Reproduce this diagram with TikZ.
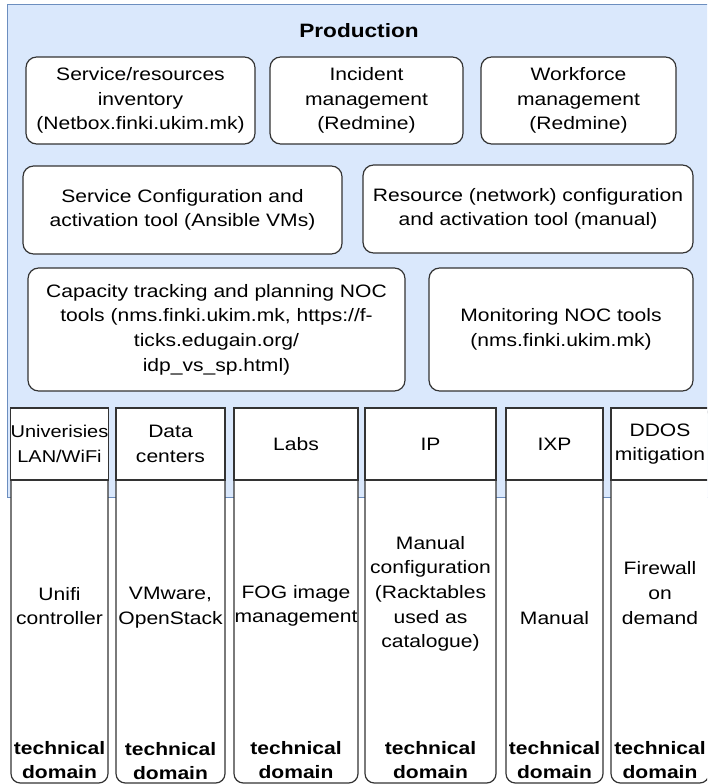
\documentclass[tikz,border=0pt]{standalone}
\usepackage{fontspec}
\setmainfont{Liberation Sans}[FakeStretch=1.17]
\definecolor{prodfill}{HTML}{DAE8FC}
\definecolor{prodline}{HTML}{6C8EBF}
\definecolor{boxline}{HTML}{333333}

\begin{document}
\begin{tikzpicture}[x=0.75pt, y=-0.75pt,
  every node/.style={font=\fontsize{13.5}{18.5}\selectfont, align=center},
  tool/.style={draw=boxline, fill=white, line width=0.9pt, rounded corners=8pt, inner sep=2pt},
  lane/.style={draw=boxline, fill=white, line width=0.9pt, rounded corners=7pt, inner sep=0pt, minimum height=281.25pt},
  lanehead/.style={draw=boxline, fill=white, line width=0.9pt, inner sep=0pt, minimum height=54pt},
  techdomain/.style={font=\fontsize{13.5}{18.5}\selectfont\bfseries, inner sep=0pt}]
  \clip (0,0) rectangle (707,784);

  \node[draw=prodline, fill=prodfill, line width=0.75pt, inner sep=0pt,
    minimum width=528pt, minimum height=369pt](Prod) at (359,251) {};
  \node[font=\fontsize{14.5}{18.5}\selectfont\bfseries](ProdTitle) at (359,31) {Production};

  \node[tool, minimum width=171.75pt, minimum height=65.25pt](Inv) at (140.5,100.5)
    {Service/resources\\inventory\\(Netbox.finki.ukim.mk)};
  \node[tool, minimum width=144.75pt, minimum height=65.25pt](Incid) at (366.5,100.5)
    {Incident\\management\\(Redmine)};
  \node[tool, minimum width=146.25pt, minimum height=65.25pt](Work) at (578.5,100.5)
    {Workforce\\management\\(Redmine)};

  \node[tool, minimum width=239.25pt, minimum height=66pt](SrvConf) at (182.5,210)
    {Service Configuration and\\activation tool (Ansible VMs)};
  \node[tool, minimum width=247.5pt, minimum height=66pt](ResConf) at (528,209)
    {Resource (network) configuration\\and activation tool (manual)};

  \node[tool, minimum width=282.75pt, minimum height=92.25pt](Capac) at (216.5,329.5)
    {Capacity tracking and planning NOC\\tools (nms.finki.ukim.mk, https://f-\\ticks.edugain.org/\\idp\_vs\_sp.html)};
  \node[tool, minimum width=198pt, minimum height=92.25pt](Monit) at (561,329.5)
    {Monitoring NOC tools\\(nms.finki.ukim.mk)};

  \node[lane, minimum width=72.75pt](UniLane) at (59.5,595.5) {};
  \node[lanehead, minimum width=72.75pt, font=\fontsize{12.8}{18.5}\selectfont](Uni) at (59.5,444)
    {Univerisies\\LAN/WiFi};
  \node(UniTool) at (59.5,606) {Unifi\\controller};
  \node[techdomain](UniDom) at (59.5,760) {technical\\domain};

  \node[lane, minimum width=81.75pt](DCLane) at (170.5,595.5) {};
  \node[lanehead, minimum width=81.75pt](DC) at (170.5,444) {Data\\centers};
  \node(DCTool) at (170.5,608) {VMware,\\OpenStack};
  \node[techdomain](DCDom) at (170.5,761) {technical\\domain};

  \node[lane, minimum width=93pt](LabsLane) at (296,595.5) {};
  \node[lanehead, minimum width=93pt](Labs) at (296,444) {Labs};
  \node(LabsTool) at (296,606) {FOG image\\management};
  \node[techdomain](LabsDom) at (296,760) {technical\\domain};

  \node[lane, minimum width=98.25pt](IPLane) at (430.5,595.5) {};
  \node[lanehead, minimum width=98.25pt](IP) at (430.5,444) {IP};
  \node(IPTool) at (430.5,594) {Manual\\configuration\\(Racktables\\used as\\catalogue)};
  \node[techdomain](IPDom) at (430.5,760) {technical\\domain};

  \node[lane, minimum width=72.75pt](IXPLane) at (554.5,595.5) {};
  \node[lanehead, minimum width=72.75pt](IXP) at (554.5,444) {IXP};
  \node(IXPTool) at (554.5,618) {Manual};
  \node[techdomain](IXPDom) at (554.5,760) {technical\\domain};

  \node[lane, minimum width=73.5pt](DDOSLane) at (660,595.5) {};
  \node[lanehead, minimum width=73.5pt](DDOS) at (660,444) {DDOS\\mitigation};
  \node(DDOSTool) at (660,593) {Firewall\\on\\demand};
  \node[techdomain](DDOSDom) at (660,760) {technical\\domain};
\end{tikzpicture}
\end{document}
